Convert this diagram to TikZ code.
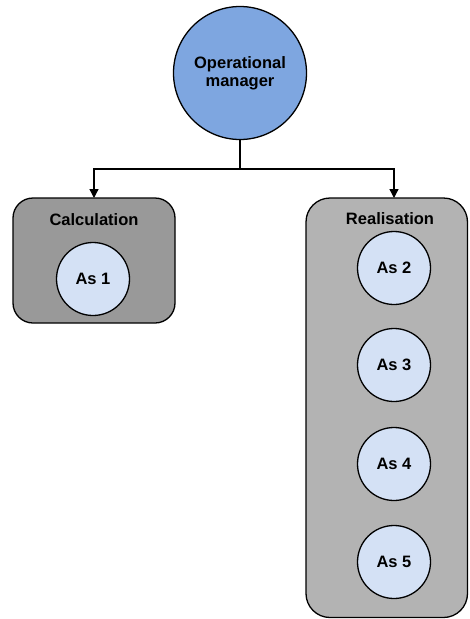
\documentclass[tikz,border=0pt]{standalone}
\usepackage{fontspec}
\setmainfont{Liberation Sans}
\usetikzlibrary{arrows.meta}
\definecolor{topblue}{HTML}{7EA6E0}
\definecolor{asblue}{HTML}{D4E1F5}
\definecolor{darkgrey}{HTML}{999999}
\definecolor{lightgrey}{HTML}{B3B3B3}
\tikzset{
  lbl/.style={font=\fontsize{16.5}{19}\selectfont\bfseries},
  ascircle/.style={circle, draw=black, line width=1.3pt, fill=asblue, minimum size=73pt, inner sep=0pt, lbl},
  group/.style={draw=black, line width=1.3pt, rounded corners=20pt},
  conn/.style={line width=1.3pt, draw=black},
  arr/.style={conn, -{Triangle[length=9pt,width=9pt]}}
}
\begin{document}
\begin{tikzpicture}[x=1pt,y=-1pt]
\useasboundingbox (0,0) rectangle (469,619);
% groups
\draw[group, fill=darkgrey] (13,198) rectangle (175,323);
\draw[group, fill=lightgrey, rounded corners=24pt] (306,198) rectangle (467.5,617.5);
\node[lbl] (calc) at (94,220) {Calculation};
\node[lbl] (real) at (390,219) {Realisation};
\coordinate (calctop) at (94,198);
\coordinate (realtop) at (394,198);
% top circle
\node[circle, draw=black, line width=1.3pt, fill=topblue, minimum size=133pt, inner sep=0pt, lbl, align=center] (om) at (240,73) {Operational\\[-1pt]manager};
\coordinate (junc) at (240,169);
% as circles
\node[ascircle] (as1) at (93,279) {As 1};
\node[ascircle] (as2) at (394,268) {As 2};
\node[ascircle] (as3) at (394,365) {As 3};
\node[ascircle] (as4) at (394,464) {As 4};
\node[ascircle] (as5) at (394,562) {As 5};
% connectors
\draw[conn] (om.south) -- (junc);
\draw[arr] (junc) -| (calctop);
\draw[arr] (junc) -| (realtop);
\end{tikzpicture}
\end{document}
